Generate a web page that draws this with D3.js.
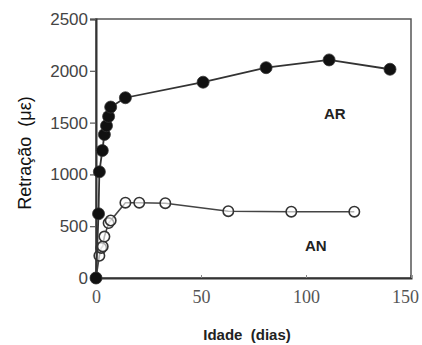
<!DOCTYPE html>
<html><head><meta charset="utf-8">
<script src="https://cdn.jsdelivr.net/npm/d3@7"></script>
<style>body{margin:0;background:#fff}svg{display:block}</style>
</head><body>
<svg id="c" width="422" height="345"></svg>
<script>
const xTicks = [0, 50, 100, 150];
const yTicks = [0, 500, 1000, 1500, 2000, 2500];
const arDays = [0, 1.2, 1.6, 3, 4, 5, 6, 7, 14, 51, 81, 111, 140];
const arVals = [0, 620, 1025, 1230, 1385, 1470, 1560, 1650, 1740, 1890, 2030, 2105, 2015];
const anDays = [0, 1.6, 2.5, 3.2, 4, 6, 7, 14, 20.6, 33, 63, 93, 123];
const anVals = [0, 215, 290, 305, 400, 530, 555, 727, 727, 722, 645, 640, 640];
const seriesLabels = ["AR", "AN"];
const xTitle = "Idade  (dias)";
const yTitle = "Retração  (με)";

const svg = d3.select("#c");
const L = 96, R = 411, T = 19, B = 278;
const x = d3.scaleLinear().domain([0, 150]).range([L, R]);
const y = d3.scaleLinear().domain([0, 2500]).range([B, T]);

// frame
svg.append("rect").attr("x", L).attr("y", T).attr("width", R - L).attr("height", B - T)
  .attr("fill", "none").attr("stroke", "#555").attr("stroke-width", 1.5);

// y axis
const ya = svg.append("g").attr("transform", `translate(${L},0)`)
  .call(d3.axisLeft(y).tickValues(yTicks).tickSize(6).tickPadding(2).tickFormat(d3.format("d")));
ya.select(".domain").attr("stroke", "#333").attr("stroke-width", 2);
ya.selectAll(".tick line").attr("stroke", "#555").attr("stroke-width", 1.2);
ya.selectAll("text").attr("font-family", "Liberation Sans, Arial, sans-serif")
  .attr("font-size", 17).attr("fill", "#444");

// x axis
const xa = svg.append("g").attr("transform", `translate(0,${B})`)
  .call(d3.axisBottom(x).tickValues(xTicks).tickSize(-3).tickPadding(12).tickFormat(d3.format("d")));
xa.select(".domain").attr("stroke", "#333").attr("stroke-width", 2);
xa.selectAll(".tick line").attr("stroke", "#888").attr("stroke-width", 1);
xa.selectAll("text").attr("font-family", "Liberation Serif, Times New Roman, serif")
  .attr("font-size", 18).attr("fill", "#555")
  .attr("dx", d => d === 150 ? -6 : 0);

const line = d3.line().x(d => x(d[0])).y(d => y(d[1]));
const an = anDays.map((d, i) => [d, anVals[i]]);
const ar = arDays.map((d, i) => [d, arVals[i]]);

svg.append("path").datum(an).attr("d", line).attr("fill", "none").attr("stroke", "#444").attr("stroke-width", 1.6);
svg.selectAll(".an").data(an).enter().append("circle")
  .attr("cx", d => x(d[0])).attr("cy", d => y(d[1])).attr("r", 5.2)
  .attr("fill", "#fff").attr("fill-opacity", 0.6).attr("stroke", "#333").attr("stroke-width", 1.6);

svg.append("path").datum(ar).attr("d", line).attr("fill", "none").attr("stroke", "#333").attr("stroke-width", 1.8);
svg.selectAll(".ar").data(ar).enter().append("circle")
  .attr("cx", d => x(d[0])).attr("cy", d => y(d[1])).attr("r", 6)
  .attr("fill", "#111").attr("stroke", "#333").attr("stroke-width", 0.8);

const lab = (t, px, py) => svg.append("text").attr("x", px).attr("y", py).text(t)
  .attr("font-family", "Liberation Sans, Arial, sans-serif").attr("font-weight", "bold")
  .attr("font-size", 15).attr("fill", "#222");
lab(seriesLabels[0], 324, 119);
lab(seriesLabels[1], 305, 251);

svg.append("text").attr("x", 247).attr("y", 340).attr("text-anchor", "middle")
  .style("white-space", "pre").text(xTitle)
  .attr("font-family", "Liberation Sans, Arial, sans-serif").attr("font-weight", "bold")
  .attr("font-size", 15).attr("fill", "#222");

svg.append("text").attr("transform", "translate(31,153) rotate(-90)").attr("text-anchor", "middle")
  .style("white-space", "pre").text(yTitle)
  .attr("font-family", "Liberation Sans, Arial, sans-serif")
  .attr("font-size", 18).attr("fill", "#111");
</script>
</body></html>
